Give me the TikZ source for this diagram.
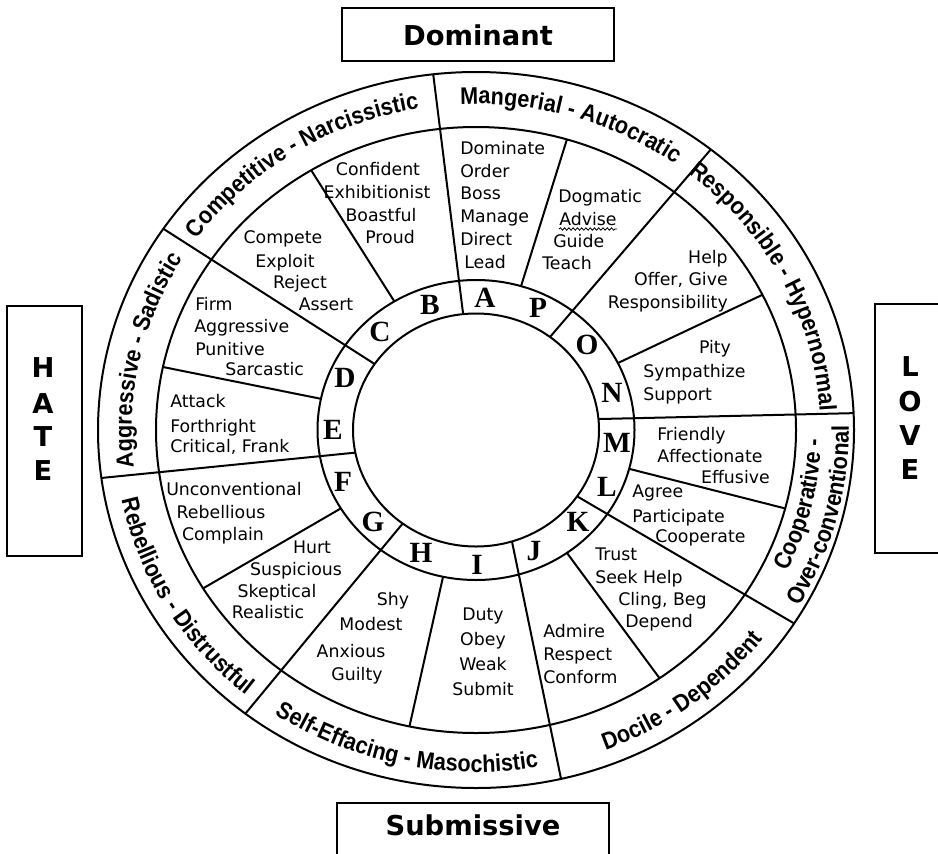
\documentclass[tikz,border=0pt]{standalone}
\usepackage{fontspec}
\usetikzlibrary{decorations.text,decorations.pathmorphing}
\newfontfamily\dvs{DejaVu Sans}
\newfontfamily\lblfam{Liberation Sans}[FakeStretch=0.9]
\newfontfamily\serfam{Liberation Serif}
\newcommand\sectfont{\dvs\fontsize{13}{15}\selectfont}
\newcommand\lblfont{\lblfam\bfseries\fontsize{18}{19}\selectfont}
\newcommand\ltrfont{\serfam\bfseries\fontsize{22}{22}\selectfont}
\newcommand\headfont{\dvs\bfseries\fontsize{20.5}{22}\selectfont}
\newcount\wcnt
\newcommand\wl[3]{\global\advance\wcnt by 1\relax\node[wtxt] (w\the\wcnt) at (#1,-#2) {#3};}
\newcommand\wlw[3]{\global\advance\wcnt by 1\relax\node[wtxt,anchor=base west] (w\the\wcnt) at (#1,-#2) {#3};}
\newcommand\wle[3]{\global\advance\wcnt by 1\relax\node[wtxt,anchor=base east] (w\the\wcnt) at (#1,-#2) {#3};}
\newcommand\arclabel[5]{\path[decorate,decoration={text along path,text align=center,text={|\lblfont|#5}}] (#1:#3 and #4) arc[start angle=#1,end angle=#2,x radius=#3,y radius=#4];}
\begin{document}
\begin{tikzpicture}[x=0.75pt,y=0.75pt,
  ring/.style={line width=1.5pt},
  wtxt/.style={font=\sectfont,inner sep=0pt,anchor=base},
  ltr/.style={font=\ltrfont,inner sep=0pt},
  boxline/.style={draw,line width=1.5pt},
  head/.style={font=\headfont,inner sep=0pt}]
\fill[white] (0,0) rectangle (938,-853);
\useasboundingbox (0,0) rectangle (938,-853);

% side boxes
\draw[boxline] (342,-8) rectangle (614,-61);
\node[head,anchor=base] (dom) at (478,-45) {Dominant};
\draw[boxline] (337,-803) rectangle (609,-875);
\node[head,anchor=base] (sub) at (473,-835) {Submissive};
\draw[boxline] (7,-306) rectangle (82,-556);
\node[head] (h1) at (43,-368) {H};
\node[head] (h2) at (43,-404) {A};
\node[head] (h3) at (43,-437) {T};
\node[head] (h4) at (43,-471) {E};
\draw[boxline] (875,-304) rectangle (950,-553);
\node[head] (l1) at (910,-367) {L};
\node[head] (l2) at (910,-402) {O};
\node[head] (l3) at (910,-436) {V};
\node[head] (l4) at (910,-470) {E};

\begin{scope}[shift={(476,-430)}]
  \draw[ring] (0,0) ellipse [x radius=123, y radius=116.5];
  \draw[ring] (0,0) ellipse [x radius=158.5, y radius=150];
  \draw[ring] (0,0) ellipse [x radius=320, y radius=303];
  \draw[ring] (0,0) ellipse [x radius=378, y radius=358];
  \foreach \i/\o in {96/96.5,53/51.6,5.4/2.7,-34.7/-32.7,-73/-77,-126.6/-127.6,191.2/187.7,145.5/145.8}
    \draw[ring] (\i:123 and 116.5) -- (\o:378 and 358);
  \foreach \a in {73.5,121,26.5,-15,-55,-102,-148.5,168}
    \draw[ring] (\a:158.5 and 150) -- (\a:320 and 303);
  \arclabel{152}{92}{344.3}{326}{Competitive - Narcissistic}
  \arclabel{103.5}{43.5}{344.3}{326}{Mangerial - Autocratic}
  \arclabel{57.5}{-2.5}{344.3}{326}{Responsible - Hypernormal}
  \arclabel{-43.5}{16.5}{345.3}{327}{Cooperative -}
  \arclabel{-44.5}{15.5}{372.8}{353}{Over-conventional}
  \arclabel{-83}{-23}{362.2}{343}{Docile - Dependent}
  \arclabel{-132}{-72}{361.2}{342}{Self-Effacing - Masochistic}
  \arclabel{-179}{-119}{362.2}{343}{Rebellious - Distrustful}
  \arclabel{197.5}{137.5}{344.3}{326}{Aggressive - Sadistic}
\end{scope}

% ring letters
\node[ltr] (lA) at (485,-298) {A};
\node[ltr] (lB) at (430,-305) {B};
\node[ltr] (lC) at (380,-332) {C};
\node[ltr] (lD) at (345,-378) {D};
\node[ltr] (lE) at (333,-430) {E};
\node[ltr] (lF) at (343,-482) {F};
\node[ltr] (lG) at (373,-522) {G};
\node[ltr] (lH) at (421,-553) {H};
\node[ltr] (lI) at (477,-565) {I};
\node[ltr] (lJ) at (534,-551) {J};
\node[ltr] (lK) at (578,-522) {K};
\node[ltr] (lL) at (607,-487) {L};
\node[ltr] (lM) at (617,-443) {M};
\node[ltr] (lN) at (612,-393) {N};
\node[ltr] (lO) at (587,-345) {O};
\node[ltr] (lP) at (538,-308) {P};

% A
\wlw{460}{154}{Dominate}
\wlw{460}{177}{Order}
\wlw{460}{199}{Boss}
\wlw{460}{222}{Manage}
\wlw{460}{245}{Direct}
\wlw{464}{268}{Lead}
% P
\wlw{558}{202}{Dogmatic}
\wlw{559}{225}{Advise}
\draw[decorate,decoration={snake,amplitude=0.9pt,segment length=3.2pt},line width=0.6pt] (559,-229) -- (617,-229);
\wlw{553}{247}{Guide}
\wlw{542}{269}{Teach}
% O
\wle{728}{263}{Help}
\wle{728}{285}{Offer, Give}
\wle{728}{308}{Responsibility}
% N
\wl{715}{353}{Pity}
\wlw{643}{377}{Sympathize}
\wlw{643}{400}{Support}
% M
\wlw{657}{440}{Friendly}
\wlw{657}{462}{Affectionate}
\wle{770}{483}{Effusive}
% L
\wlw{632}{497}{Agree}
\wlw{632}{522}{Participate}
\wlw{655}{542}{Cooperate}
% K
\wlw{595}{560}{Trust}
\wlw{595}{583}{Seek Help}
\wlw{618}{605}{Cling, Beg}
\wlw{625}{627}{Depend}
% J
\wlw{543}{637}{Admire}
\wlw{543}{660}{Respect}
\wlw{543}{683}{Conform}
% I
\wl{483}{620}{Duty}
\wl{483}{645}{Obey}
\wl{483}{670}{Weak}
\wl{483}{695}{Submit}
% H
\wl{393}{605}{Shy}
\wl{371}{630}{Modest}
\wl{351}{657}{Anxious}
\wl{357}{680}{Guilty}
% G
\wl{312}{553}{Hurt}
\wl{296}{575}{Suspicious}
\wl{277}{597}{Skeptical}
\wl{268}{618}{Realistic}
% F
\wlw{166}{495}{Unconventional}
\wl{221}{518}{Rebellious}
\wl{223}{540}{Complain}
% E
\wlw{170}{407}{Attack}
\wlw{170}{432}{Forthright}
\wlw{170}{452}{Critical, Frank}
% D
\wlw{195}{310}{Firm}
\wlw{194}{332}{Aggressive}
\wlw{195}{355}{Punitive}
\wlw{225}{375}{Sarcastic}
% C
\wl{283}{243}{Compete}
\wl{285}{267}{Exploit}
\wl{300}{288}{Reject}
\wl{326}{310}{Assert}
% B
\wl{378}{175}{Confident}
\wl{377}{198}{Exhibitionist}
\wl{381}{221}{Boastful}
\wl{390}{243}{Proud}
\end{tikzpicture}
\end{document}
